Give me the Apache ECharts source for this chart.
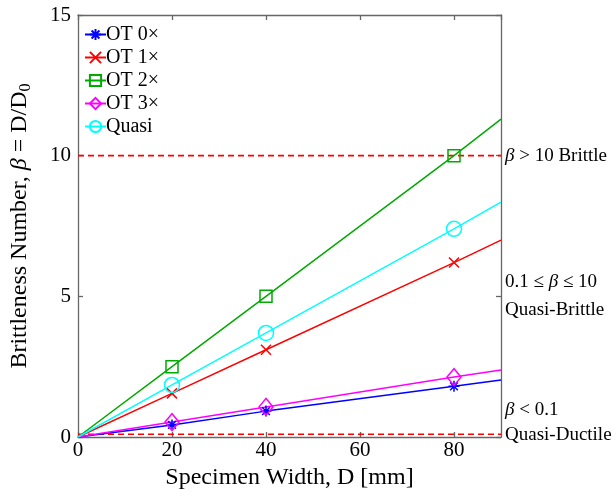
<!DOCTYPE html>
<html>
<head>
<meta charset="utf-8">
<script src="https://cdn.jsdelivr.net/npm/echarts@6/dist/echarts.min.js"></script>
<style>
  html, body { margin: 0; padding: 0; background: #fff; }
  #chart { width: 616px; height: 504px; }
</style>
</head>
<body>
<div id="chart"></div>
<script>
// Specimen widths (mm) where brittleness was measured
const widths = [20, 40, 80];
// Ends of the fitted lines
const fitStart = 0;
const fitEnd = 90;

const seriesNames = ['OT 0\u00d7', 'OT 1\u00d7', 'OT 2\u00d7', 'OT 3\u00d7', 'Quasi'];
// Brittleness number at each width
const ot0 = [0.43, 0.92, 1.80];
const ot1 = [1.55, 3.10, 6.20];
const ot2 = [2.50, 5.00, 10.00];
const ot3 = [0.53, 1.07, 2.13];
const quasi = [1.85, 3.70, 7.40];
// Fitted value at the right edge (D = 90 mm)
const fitEndValues = [2.03, 7.00, 11.30, 2.38, 8.35];

// Regime thresholds
const brittleLimit = 10;
const ductileLimit = 0.1;

const xTicks = [0, 20, 40, 60, 80];
const yTicks = [0, 5, 10, 15];

const colors = ['#0000ff', '#ff0000', '#00aa00', '#ff00ff', '#00ffff'];
const symbols = [
  'path://M0,-1L0,1M-1,0L1,0M-0.7,-0.7L0.7,0.7M-0.7,0.7L0.7,-0.7',
  'path://M-1,-1L1,1M-1,1L1,-1',
  'rect',
  'diamond',
  'circle'
];
const symbolSizes = [11, 10, 12, [14, 17], 15];
const allValues = [ot0, ot1, ot2, ot3, quasi];

const serif = '"Liberation Serif", "DejaVu Serif", serif';

const chart = echarts.init(document.getElementById('chart'));

const series = seriesNames.map((name, i) => {
  const data = [{ value: [fitStart, 0], symbol: 'none' }];
  widths.forEach((w, j) => data.push({ value: [w, allValues[i][j]] }));
  data.push({ value: [fitEnd, fitEndValues[i]], symbol: 'none' });
  return {
    name: name,
    type: 'line',
    data: data,
    symbol: symbols[i],
    symbolSize: symbolSizes[i],
    showAllSymbol: true,
    z: 3,
    lineStyle: { color: colors[i], width: 1.5 },
    itemStyle: { color: 'rgba(0,0,0,0)', borderColor: colors[i], borderWidth: 1.5 },
    emphasis: { disabled: true },
    animation: false
  };
});

// Dashed threshold lines across the full width
[brittleLimit, ductileLimit].forEach((lim, k) => {
  series.push({
    name: 'limit' + k,
    type: 'line',
    data: [[fitStart, lim], [fitEnd, lim]],
    symbol: 'none',
    z: 2,
    silent: true,
    lineStyle: { color: '#ff0000', type: [6, 4], width: 1.6 },
    emphasis: { disabled: true },
    animation: false
  });
});

const axisLineStyle = { color: '#666666', width: 1.3 };
const tickLabel = { color: '#000', fontFamily: serif, fontSize: 21 };

chart.setOption({
  animation: false,
  grid: { left: 77, right: 115, top: 15, bottom: 67, containLabel: false },
  legend: {
    left: 79,
    top: 19,
    orient: 'vertical',
    itemWidth: 21,
    itemHeight: 14,
    itemGap: 2,
    data: seriesNames,
    textStyle: { fontFamily: serif, fontSize: 20, lineHeight: 21, color: '#000', padding: [0, 0, 0, -5] },
    selectedMode: false
  },
  xAxis: [
    {
      type: 'value', min: 0, max: 90, interval: 20,
      name: 'Specimen Width, D [mm]',
      nameLocation: 'middle', nameGap: 28,
      nameTextStyle: { fontFamily: serif, fontSize: 24, color: '#000' },
      axisLine: { show: true, onZero: false, lineStyle: axisLineStyle },
      axisTick: { show: true, inside: true, length: 5, lineStyle: axisLineStyle },
      axisLabel: Object.assign({ margin: 3, showMaxLabel: false,
        formatter: v => xTicks.includes(v) ? String(v) : '' }, tickLabel),
      splitLine: { show: false }
    },
    {
      type: 'value', min: 0, max: 90, interval: 20, position: 'top',
      axisLine: { show: true, onZero: false, lineStyle: axisLineStyle },
      axisTick: { show: true, inside: true, length: 5, lineStyle: axisLineStyle },
      axisLabel: { show: false },
      splitLine: { show: false }
    }
  ],
  yAxis: [
    {
      type: 'value', min: 0, max: 15, interval: 5,
      name: 'Brittleness Number, {i|\u03b2} = D/D{sub|0}',
      nameLocation: 'middle', nameGap: 44,
      nameTextStyle: {
        fontFamily: serif, fontSize: 24, color: '#000',
        rich: {
          i: { fontFamily: serif, fontSize: 24, fontStyle: 'italic', color: '#000' },
          sub: { fontFamily: serif, fontSize: 16, color: '#000', verticalAlign: 'bottom', padding: [12, 0, 0, 0] }
        }
      },
      axisLine: { show: true, onZero: false, lineStyle: axisLineStyle },
      axisTick: { show: true, inside: true, length: 5, lineStyle: axisLineStyle },
      axisLabel: Object.assign({ margin: 7,
        formatter: v => yTicks.includes(v) ? String(v) : '' }, tickLabel),
      splitLine: { show: false }
    },
    {
      type: 'value', min: 0, max: 15, interval: 5, position: 'right',
      axisLine: { show: true, onZero: false, lineStyle: axisLineStyle },
      axisTick: { show: true, inside: true, length: 5, lineStyle: axisLineStyle },
      axisLabel: { show: false },
      splitLine: { show: false }
    }
  ],
  series: series
});

// Regime labels on the right-hand side, placed from data values
const rightX = chart.convertToPixel({ xAxisIndex: 0 }, fitEnd) + 4;
const yPix = v => chart.convertToPixel({ yAxisIndex: 0 }, v);
const labelSize = 19;
const italicRich = { i: { fontFamily: serif, fontSize: labelSize, fontStyle: 'italic' } };
function regimeText(text, y) {
  return {
    type: 'text', x: rightX, y: y, silent: true,
    style: { text: text, verticalAlign: 'middle', fontFamily: serif, fontSize: labelSize, fill: '#000', rich: italicRich }
  };
}
chart.setOption({
  graphic: [
    regimeText('{i|\u03b2} > 10 Brittle', yPix(brittleLimit)),
    regimeText('0.1 \u2264 {i|\u03b2} \u2264 10', yPix(5) - 14),
    regimeText('Quasi-Brittle', yPix(5) + 14),
    regimeText('{i|\u03b2} < 0.1', yPix(ductileLimit) - 24),
    regimeText('Quasi-Ductile', yPix(ductileLimit) + 1)
  ]
});
</script>
</body>
</html>
